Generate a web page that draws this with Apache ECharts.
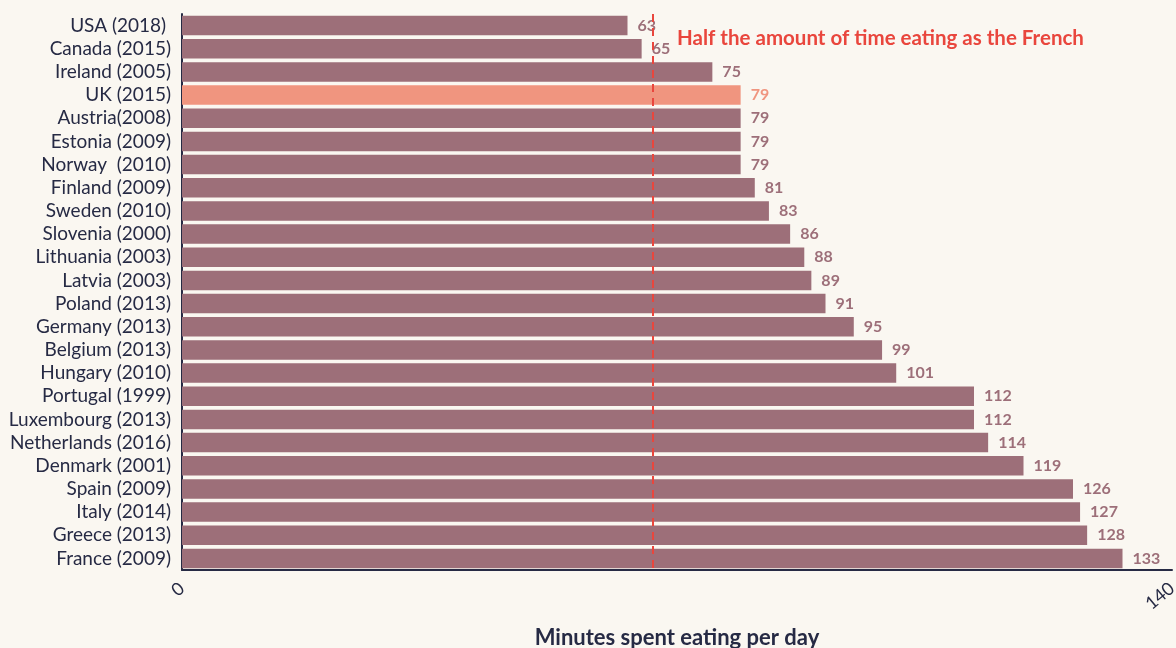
<!DOCTYPE html>
<html>
<head>
<meta charset="utf-8">
<style>
  html, body { margin: 0; padding: 0; background: #faf7f1; }
  #chart { width: 1176px; height: 648px; }
</style>
<script src="https://cdn.jsdelivr.net/npm/echarts@6/dist/echarts.min.js"></script>
</head>
<body>
<div id="chart"></div>
<script>
// countries, top to bottom
var countries = [
  'USA (2018) ', 'Canada (2015)', 'Ireland (2005)', 'UK (2015)', 'Austria(2008)',
  'Estonia (2009)', 'Norway  (2010)', 'Finland (2009)', 'Sweden (2010)', 'Slovenia (2000)',
  'Lithuania (2003)', 'Latvia (2003)', 'Poland (2013)', 'Germany (2013)', 'Belgium (2013)',
  'Hungary (2010)', 'Portugal (1999)', 'Luxembourg (2013)', 'Netherlands (2016)', 'Denmark (2001)',
  'Spain (2009)', 'Italy (2014)', 'Greece (2013)', 'France (2009)'
];
var minutes = [63, 65, 75, 79, 79, 79, 79, 81, 83, 86, 88, 89, 91, 95, 99, 101, 112, 112, 114, 119, 126, 127, 128, 133];
var highlight = 'UK (2015)';
var halfFrench = 133 / 2;
var noteText = 'Half the amount of time eating as the French';

var barColor = '#9d6f79';
var hiColor = '#f0957f';
var red = '#e9463d';
var ink = '#262a44';
var font = 'Lato';

var chart = echarts.init(document.getElementById('chart'));

var barData = minutes.map(function (v, i) {
  var hi = countries[i] === highlight;
  return {
    value: v,
    itemStyle: { color: hi ? hiColor : barColor },
    label: { color: hi ? hiColor : barColor }
  };
});

chart.setOption({
  backgroundColor: '#faf7f1',
  animation: false,
  textStyle: { fontFamily: font },
  grid: { left: 182, right: 4, top: 14, bottom: 78, containLabel: false, outerBoundsMode: 'none' },
  xAxis: {
    type: 'value',
    min: 0,
    max: 140,
    interval: 140,
    splitLine: { show: false },
    axisLine: { show: true, lineStyle: { color: ink, width: 2 } },
    axisTick: { show: false },
    axisLabel: { color: ink, fontSize: 18, rotate: 40, margin: 16, fontFamily: font },
    name: 'Minutes spent eating per day',
    nameLocation: 'middle',
    nameGap: 57,
    nameTextStyle: { color: ink, fontSize: 22, fontWeight: 'bold', fontFamily: font }
  },
  yAxis: {
    type: 'category',
    data: countries,
    inverse: true,
    axisLine: { show: true, lineStyle: { color: ink, width: 2 } },
    axisTick: { show: false },
    axisLabel: { color: ink, fontSize: 19, margin: 11, interval: 0, fontFamily: font }
  },
  series: [{
    type: 'bar',
    data: barData,
    barCategoryGap: '16%',
    label: {
      show: true,
      position: 'right',
      distance: 10,
      fontSize: 16,
      fontWeight: 'bold',
      fontFamily: font
    },
    markLine: {
      silent: true,
      symbol: 'none',
      lineStyle: { color: red, type: [8, 6], width: 2 },
      label: { show: false },
      data: [{ xAxis: halfFrench }]
    },
    markPoint: {
      silent: true,
      symbol: 'circle',
      symbolSize: 0,
      data: [{ coord: [70, countries[1]] }],
      label: {
        show: true,
        position: 'right',
        distance: 0,
        offset: [0, -10],
        formatter: noteText,
        color: red,
        fontSize: 20.5,
        fontWeight: 'bold',
        fontFamily: font
      }
    }
  }]
});
</script>
</body>
</html>
